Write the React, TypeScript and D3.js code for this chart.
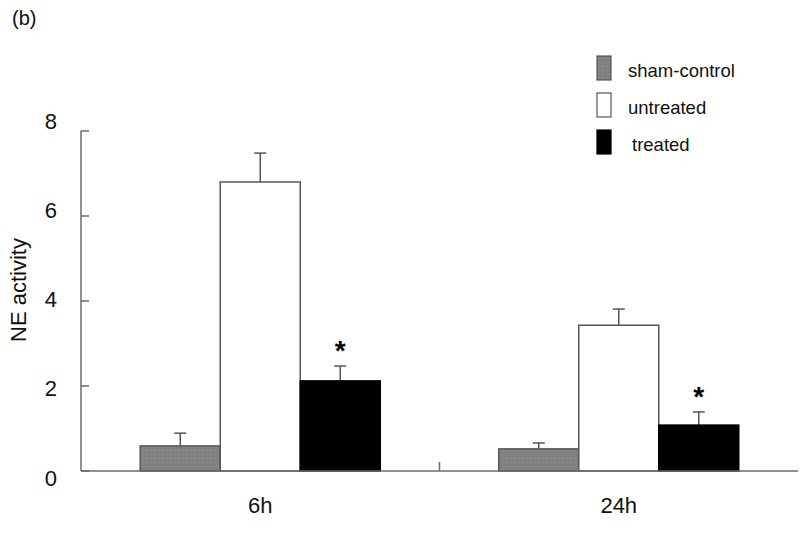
import React from "react";
import * as d3 from "d3";

const categories = ["6h", "24h"];
const series = ["sham-control", "untreated", "treated"];
const means = [
  [0.59, 6.8, 2.12],
  [0.52, 3.43, 1.08],
];
const errors = [
  [0.3, 0.68, 0.35],
  [0.14, 0.38, 0.31],
];
const significant = [
  [false, false, true],
  [false, false, true],
];
const yTicks = [0, 2, 4, 6, 8];
const fills = ["url(#shamPattern)", "#ffffff", "#000000"];

const W = 800;
const H = 533;
const FONT = "'Liberation Sans', Arial, sans-serif";

export default function App() {
  const x = d3.scaleBand<string>().domain(categories).range([81, 798]).padding(0);
  const y = d3.scaleLinear().domain([0, 8]).range([471, 131]);
  const labelY = d3.scaleLinear().domain([0, 8]).range([478, 121]);
  const bw = x.bandwidth();
  const inner = d3
    .scaleBand<string>()
    .domain(series)
    .range([bw / 2 - 120, bw / 2 + 120])
    .padding(0);
  const ibw = inner.bandwidth();
  const axisColor = "#6b6b6b";
  const barStroke = "#555";

  return (
    <svg
      width={W}
      height={H}
      style={{ position: "absolute", left: 0, top: 0, background: "#fff" }}
      fontFamily={FONT}
    >
      <defs>
        <pattern id="shamPattern" width="4" height="4" patternUnits="userSpaceOnUse">
          <rect width="4" height="4" fill="#828282" />
          <rect x="0" y="0" width="1" height="1" fill="#777" />
          <rect x="2" y="2" width="1" height="1" fill="#8e8e8e" />
        </pattern>
      </defs>
      <rect width={W} height={H} fill="#fff" />
      <text x={12} y={25} fontSize={20} fill="#111">(b)</text>

      {/* bars */}
      {categories.map((c, ci) =>
        series.map((s, si) => {
          const x0 = (x(c) as number) + (inner(s) as number);
          const v = means[ci][si];
          const e = errors[ci][si];
          const cx = x0 + ibw / 2;
          return (
            <g key={c + s}>
              <line x1={cx} x2={cx} y1={y(v)} y2={y(v + e)} stroke={barStroke} strokeWidth={1.5} />
              <line x1={cx - 6} x2={cx + 6} y1={y(v + e)} y2={y(v + e)} stroke={barStroke} strokeWidth={1.5} />
              <rect
                x={x0}
                y={y(v)}
                width={ibw}
                height={y(0) - y(v)}
                fill={fills[si]}
                stroke={si === 2 ? "#000" : barStroke}
                strokeWidth={1.5}
              />
              {significant[ci][si] && (
                <text
                  x={cx}
                  y={y(v + e) - 6}
                  textAnchor="middle"
                  fontSize={28}
                  fontWeight="bold"
                  fill="#000"
                >
                  *
                </text>
              )}
            </g>
          );
        })
      )}

      {/* axes */}
      <line x1={81} x2={81} y1={y(8)} y2={y(0)} stroke={axisColor} strokeWidth={1.5} />
      <line x1={81} x2={798} y1={y(0)} y2={y(0)} stroke={axisColor} strokeWidth={1.5} />
      {yTicks.map((t) => (
        <g key={t}>
          <line x1={81} x2={89} y1={y(t)} y2={y(t)} stroke={axisColor} strokeWidth={1.5} />
          <text
            x={57}
            y={labelY(t)}
            textAnchor="end"
            dominantBaseline="central"
            fontSize={22}
            fill="#111"
          >
            {t}
          </text>
        </g>
      ))}
      {categories.slice(1).map((c) => (
        <line
          key={c}
          x1={x(c) as number}
          x2={x(c) as number}
          y1={y(0) - 9}
          y2={y(0)}
          stroke={axisColor}
          strokeWidth={1.5}
        />
      ))}
      {categories.map((c) => (
        <text
          key={c}
          x={(x(c) as number) + bw / 2}
          y={513}
          textAnchor="middle"
          fontSize={22}
          fill="#111"
        >
          {c}
        </text>
      ))}
      <text
        transform={`translate(26, ${290}) rotate(-90)`}
        textAnchor="middle"
        fontSize={22}
        fill="#111"
      >
        NE activity
      </text>

      {/* legend */}
      {series.map((s, si) => {
        const ly = 56 + si * 37;
        return (
          <g key={s}>
            <rect
              x={597}
              y={ly}
              width={14}
              height={24}
              fill={fills[si]}
              stroke={si === 2 ? "#000" : barStroke}
              strokeWidth={1.2}
            />
            <text x={si === 2 ? 632 : 628} y={ly + 21} fontSize={18.5} fill="#111">
              {s}
            </text>
          </g>
        );
      })}
    </svg>
  );
}
